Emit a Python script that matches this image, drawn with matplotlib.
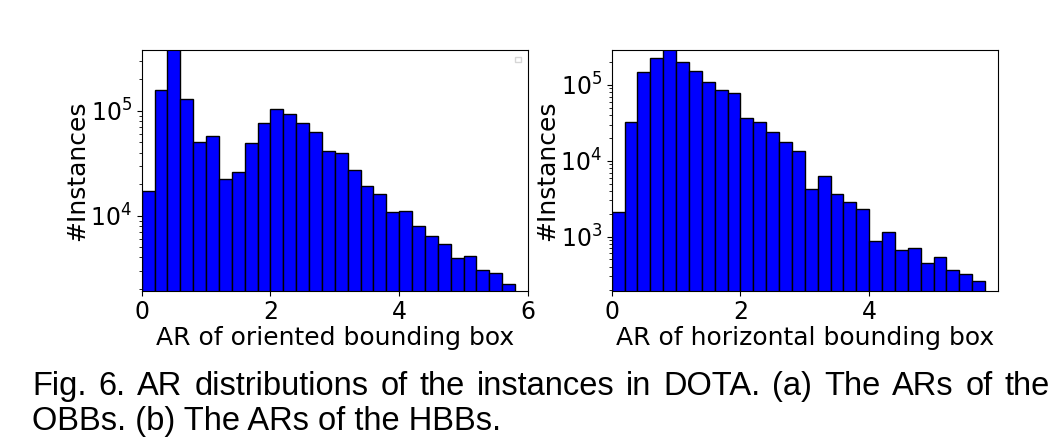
import matplotlib
matplotlib.use('Agg')
import matplotlib.pyplot as plt
from matplotlib.ticker import NullFormatter
import numpy as np

plt.rcParams['font.family'] = 'DejaVu Sans'
plt.rcParams['mathtext.fontset'] = 'dejavusans'

bin_width = 0.2
bin_lefts = [round(i * bin_width, 1) for i in range(29)]

obb_counts = [17200, 157000, 420000, 131000, 49900, 57000, 22200, 25900, 48900, 76300,
              105000, 92300, 76300, 62200, 41300, 39300, 27000, 19200, 16000, 10800,
              11000, 7910, 6360, 5330, 3930, 4100, 3040, 2850, 2220]
hbb_counts = [2090, 32700, 147000, 225000, 320000, 199000, 153000, 108000, 85100, 78500,
              36500, 32700, 23900, 17600, 13400, 4210, 6250, 3610, 2840, 2290,
              867, 1140, 661, 702, 450, 533, 363, 318, 260]

caption_1 = 'Fig. 6. AR distributions of the instances in DOTA. (a) The ARs of the'
caption_2 = 'OBBs. (b) The ARs of the HBBs.'

fig = plt.figure(figsize=(10.61, 4.47), dpi=100)
ax1 = fig.add_axes([0.1336, 0.3497, 0.364, 0.5385])
ax2 = fig.add_axes([0.5765, 0.3497, 0.364, 0.5385])

for ax, counts, xlabel in [(ax1, obb_counts, 'AR of oriented bounding box'),
                           (ax2, hbb_counts, 'AR of horizontal bounding box')]:
    ax.bar(bin_lefts, counts, width=bin_width, align='edge', color='blue',
           edgecolor='black', linewidth=1)
    ax.set_yscale('log')
    ax.yaxis.set_minor_formatter(NullFormatter())
    ax.set_xlim(0, 6)
    ax.set_xlabel(xlabel, fontsize=18, labelpad=1)
    ax.set_ylabel('#Instances', fontsize=18, labelpad=1)
    ax.tick_params(labelsize=17)

ax1.set_ylim(1930, 3.8e5)
ax1.set_xticks([0, 2, 4, 6])
ax1.legend(handles=[], loc='upper right', borderpad=0.2, fancybox=False,
           edgecolor='#cccccc')
ax2.set_ylim(194, 2.89e5)
ax2.set_xticks([0, 2, 4])

# caption, first line justified across the full width
cap_size = 23.5
cap_left, cap_right = 32, 1050
fig.canvas.draw()
renderer = fig.canvas.get_renderer()
words = caption_1.split(' ')
texts = [fig.text(0, 1 - 395 / 447, w, fontsize=cap_size, family='Liberation Sans',
                  va='baseline') for w in words]
widths = [t.get_window_extent(renderer).width for t in texts]
gap = (cap_right - cap_left - sum(widths)) / (len(words) - 1)
x = cap_left
for t, w in zip(texts, widths):
    t.set_x(x / 1061)
    x += w + gap
fig.text(cap_left / 1061, 1 - 430 / 447, caption_2, fontsize=cap_size,
         family='Liberation Sans', va='baseline')

fig.savefig('out.png', dpi=100)
